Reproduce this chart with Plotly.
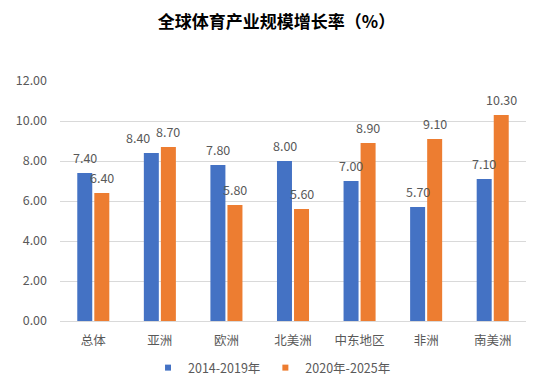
import plotly.graph_objects as go

categories = ["总体", "亚洲", "欧洲", "北美洲", "中东地区", "非洲", "南美洲"]
series_2014_2019 = [7.40, 8.40, 7.80, 8.00, 7.00, 5.70, 7.10]
series_2020_2025 = [6.40, 8.70, 5.80, 5.60, 8.90, 9.10, 10.30]
series_names = ["2014-2019年", "2020年-2025年"]
y_ticks = [0, 2, 4, 6, 8, 10, 12]

font_family = "Noto Sans CJK SC, Noto Sans, sans-serif"
label_color = "#595959"
colors = ["#4472C4", "#ED7D31"]
label_size = 12.5
# horizontal position of each series' label relative to category centre (px)
series_xshift = [-8.5, 8.5]
# extra nudges applied to labels that would collide (series index, category index) -> px
label_nudge = {(0, 1): -13}

fig = go.Figure()
for name, vals, col in zip(series_names, [series_2014_2019, series_2020_2025], colors):
    fig.add_trace(go.Bar(
        x=categories, y=vals, name=name, showlegend=False,
        marker_color=col, marker_line_width=0,
    ))
for name, col in zip(series_names, colors):
    fig.add_trace(go.Scatter(
        x=[None], y=[None], mode="markers", name=name,
        marker=dict(symbol="square", size=6, color=col),
    ))

annotations = []
for si, vals in enumerate([series_2014_2019, series_2020_2025]):
    for ci, (cat, v) in enumerate(zip(categories, vals)):
        annotations.append(dict(
            x=cat, y=v, xref="x", yref="y", text=f"{v:.2f}", showarrow=False,
            xshift=series_xshift[si] + label_nudge.get((si, ci), 0), yshift=16,
            xanchor="center", yanchor="middle",
            font=dict(size=label_size, color=label_color, family=font_family),
        ))

fig.update_layout(
    width=537, height=383,
    margin=dict(l=52, r=19, t=73, b=70, autoexpand=False),
    paper_bgcolor="white", plot_bgcolor="white",
    font=dict(family=font_family, color=label_color, size=label_size),
    title=dict(text="<b>全球体育产业规模增长率（%）</b>", x=0.5, xanchor="center",
               y=1 - 14 / 383, yref="container", yanchor="middle",
               font=dict(size=17, color="black", family=font_family)),
    barmode="group", bargap=0.488, bargroupgap=0.12,
    showlegend=True,
    legend=dict(orientation="h", x=0.455, xanchor="center", y=23 / 383, yref="container",
                yanchor="middle", font=dict(size=label_size, color=label_color), itemwidth=30,
                tracegroupgap=0),
    annotations=annotations,
    yaxis=dict(range=[0, 12], tickvals=y_ticks, tickformat=".2f",
               showgrid=True, gridcolor="#D9D9D9", gridwidth=1,
               zeroline=False, showline=False, ticks="", ticklabelstandoff=12,
               tickfont=dict(size=label_size, color=label_color)),
    xaxis=dict(showline=True, linecolor="#D9D9D9", ticks="", ticklabelstandoff=8,
               tickfont=dict(size=label_size, color=label_color)),
)

fig.write_html("out.html")
